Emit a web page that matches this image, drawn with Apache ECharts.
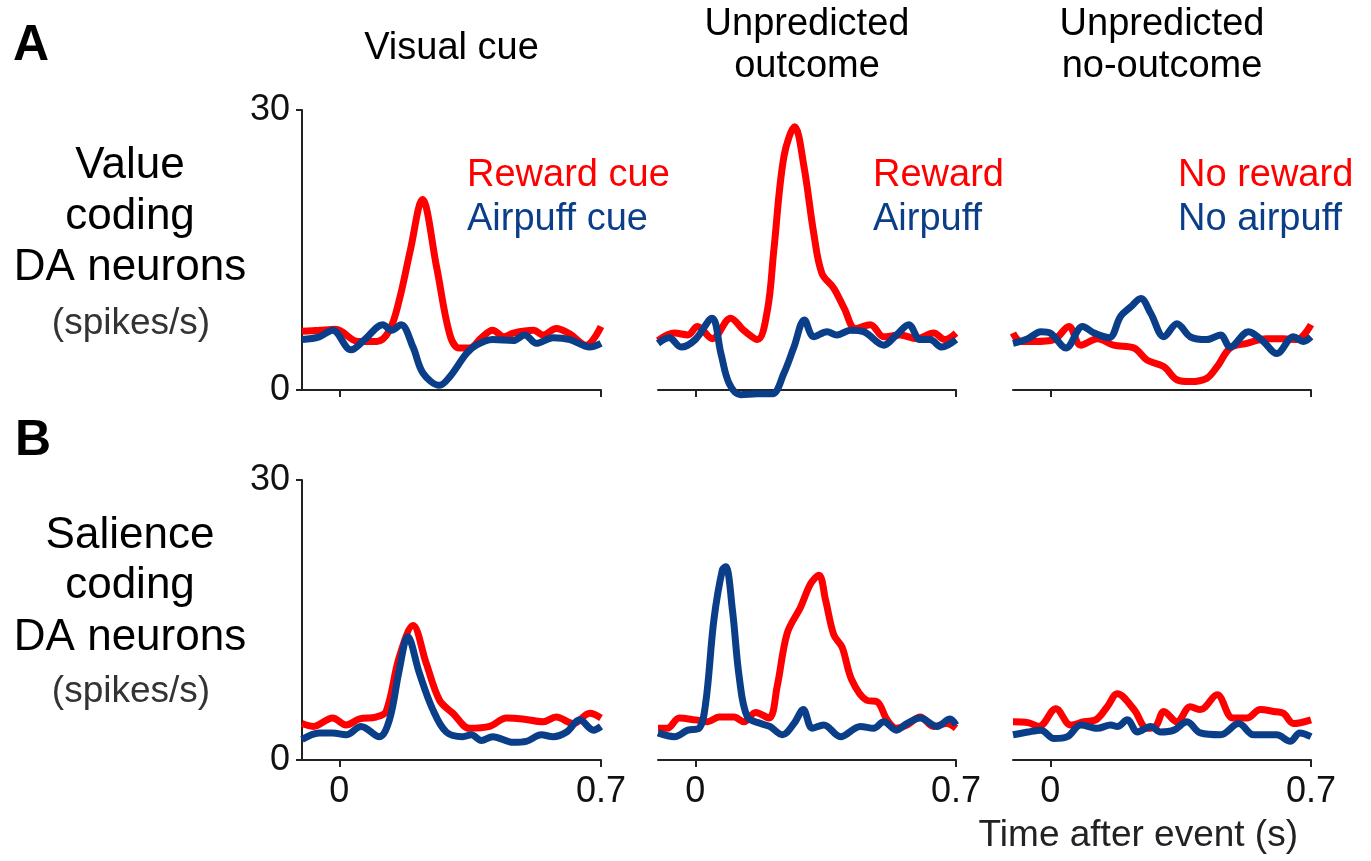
<!DOCTYPE html>
<html>
<head>
<meta charset="utf-8">
<script src="https://cdn.jsdelivr.net/npm/echarts@6/dist/echarts.min.js"></script>
<style>
html,body{margin:0;padding:0;background:#fff;}
#main{width:1371px;height:861px;}
</style>
</head>
<body>
<div id="main"></div>
<script>
// Column titles and row labels
const columnTitles = [['Visual cue'], ['Unpredicted', 'outcome'], ['Unpredicted', 'no-outcome']];
const rowLabelsA = ['Value', 'coding', 'DA neurons'];
const rowLabelsB = ['Salience', 'coding', 'DA neurons'];
const unitLabel = '(spikes/s)';
const redNames = ['Reward cue', 'Reward', 'No reward'];
const blueNames = ['Airpuff cue', 'Airpuff', 'No airpuff'];
const xTicks = [0, 0.7];
const yTicks = [0, 30];
const xAxisName = 'Time after event (s)';

// Row A (value coding) — [time (s), spikes/s]
const valueCueReward = [[-0.1,6.3],[-0.054,6.4],[-0.01,6.5],[0.05,5.2],[0.1,5.2],[0.134,6.4],[0.16,9.6],[0.19,15],[0.222,20.4],[0.26,13.2],[0.295,6],[0.32,4.5],[0.348,4.5],[0.38,5.6],[0.41,6.4],[0.44,5.7],[0.465,6.1],[0.52,6.4],[0.545,5.9],[0.58,6.6],[0.617,6],[0.66,4.8],[0.7,6.8]];
const valueCueAirpuff = [[-0.1,5.4],[-0.054,5.7],[-0.018,6.4],[0.031,4.3],[0.07,5.5],[0.116,7],[0.14,6.4],[0.165,7],[0.197,4.6],[0.224,1.8],[0.268,0.5],[0.295,1.4],[0.34,3.9],[0.366,4.8],[0.41,5.4],[0.465,5.3],[0.496,5.9],[0.527,5],[0.572,5.6],[0.617,5.4],[0.67,4.6],[0.7,5]];
const valueOutReward = [[-0.1,5.3],[-0.056,6.1],[-0.02,5.9],[0.006,6.8],[0.046,5.5],[0.095,7.7],[0.13,6.4],[0.167,5.4],[0.194,8.6],[0.211,15],[0.238,25],[0.267,28.2],[0.292,23.9],[0.318,16.8],[0.34,12.5],[0.372,10.9],[0.4,8.75],[0.43,6.6],[0.47,7],[0.506,5.7],[0.55,5.9],[0.595,5.5],[0.64,6.1],[0.67,5.4],[0.7,6.1]];
const valueOutAirpuff = [[-0.1,5],[-0.07,5.6],[-0.038,4.6],[0,5.4],[0.045,7.7],[0.069,3.9],[0.091,0.7],[0.122,-0.5],[0.167,-0.4],[0.207,-0.4],[0.238,1.8],[0.265,4.6],[0.293,7.5],[0.318,5.7],[0.354,6.25],[0.38,5.9],[0.417,6.4],[0.452,6.25],[0.506,4.8],[0.54,5.9],[0.573,7],[0.604,5.4],[0.63,5.4],[0.662,4.6],[0.7,5.4]];
const valueNoReward = [[-0.1,6.1],[-0.08,5.2],[-0.043,5.2],[0.01,5.4],[0.05,6.8],[0.082,4.8],[0.127,5.5],[0.17,4.8],[0.225,4.5],[0.26,3.2],[0.305,2.5],[0.34,1.1],[0.376,0.9],[0.42,1.25],[0.448,2.5],[0.483,4.5],[0.528,5],[0.58,5.5],[0.626,5.5],[0.662,5.4],[0.7,7]];
const valueNoAirpuff = [[-0.1,5],[-0.06,5.5],[-0.025,6.25],[0,6.1],[0.042,4.5],[0.087,6.8],[0.118,6.1],[0.158,5.6],[0.189,7.9],[0.216,8.9],[0.243,9.8],[0.27,8.2],[0.305,5.7],[0.34,7.1],[0.376,5.7],[0.42,5.4],[0.457,5.9],[0.483,4.6],[0.532,6.25],[0.572,5.2],[0.608,3.9],[0.653,5.7],[0.68,5.2],[0.7,5.7]];

// Row B (salience coding)
const salCueReward = [[-0.1,3.9],[-0.07,3.6],[-0.018,4.5],[0.018,3.75],[0.054,4.4],[0.098,4.6],[0.125,5.2],[0.16,11],[0.197,14.4],[0.232,10.4],[0.268,6.4],[0.304,5],[0.348,3.4],[0.402,3.6],[0.447,4.5],[0.49,4.4],[0.545,4.1],[0.58,4.6],[0.626,3.9],[0.67,5],[0.7,4.5]];
const salCueAirpuff = [[-0.1,2.2],[-0.054,2.9],[-0.018,2.9],[0.018,2.7],[0.058,3.6],[0.107,2.5],[0.134,4.3],[0.16,9.6],[0.183,13.2],[0.214,9.3],[0.25,5.4],[0.286,3],[0.33,2.5],[0.353,2.7],[0.38,2.1],[0.41,2.5],[0.465,1.9],[0.5,2],[0.54,2.7],[0.572,2.5],[0.608,3],[0.643,4.3],[0.68,3.2],[0.7,3.6]];
const salOutReward = [[-0.1,3.4],[-0.075,3.4],[-0.043,4.5],[0,4.3],[0.033,4.1],[0.064,4.6],[0.104,4.6],[0.131,4.1],[0.162,5.1],[0.198,4.5],[0.22,7.9],[0.247,13.6],[0.283,16.4],[0.31,18.9],[0.332,19.8],[0.35,17.1],[0.372,13.4],[0.394,12.1],[0.42,8.6],[0.46,6.4],[0.488,6.25],[0.515,4.3],[0.54,3.4],[0.568,3.75],[0.604,4.6],[0.64,3.6],[0.675,3.9],[0.7,3.4]];
const salOutAirpuff = [[-0.1,2.9],[-0.056,2.5],[-0.02,3.2],[0.01,3.4],[0.028,6.1],[0.05,15],[0.073,20.4],[0.082,20.7],[0.1,16],[0.118,8.9],[0.14,4.6],[0.176,3.9],[0.2,3.6],[0.234,2.7],[0.265,3.9],[0.29,5.4],[0.314,3.4],[0.345,3.75],[0.39,2.5],[0.443,3.6],[0.479,3.4],[0.506,4.1],[0.54,3.2],[0.568,3.9],[0.604,4.5],[0.649,3.6],[0.684,4.4],[0.7,3.75]];
const salNoReward = [[-0.1,4.1],[-0.06,4],[-0.03,3.6],[0.015,5.5],[0.055,3.75],[0.091,4.1],[0.122,4.3],[0.153,5.7],[0.18,7.1],[0.225,5.4],[0.26,3.4],[0.283,3.6],[0.305,5.2],[0.34,4.1],[0.376,5.7],[0.403,5.4],[0.448,7],[0.49,4.5],[0.528,4.5],[0.564,5.4],[0.6,5.2],[0.626,5],[0.653,3.9],[0.7,4.3]];
const salNoAirpuff = [[-0.1,2.7],[-0.06,3],[-0.025,3.2],[0.01,2.3],[0.046,2.5],[0.082,3.75],[0.127,3.4],[0.162,3.75],[0.18,3.6],[0.207,4.3],[0.234,3],[0.27,3.6],[0.296,3],[0.332,3.2],[0.367,4.1],[0.403,2.9],[0.457,2.7],[0.506,3.9],[0.546,2.7],[0.608,2.7],[0.644,2],[0.67,2.9],[0.7,2.5]];

const RED = '#FF0000';
const BLUE = '#0B3E88';
const FONT = '"Liberation Sans", Arial, sans-serif';
const AXIS = '#222';

const panelData = [
  [valueCueReward, valueCueAirpuff], [valueOutReward, valueOutAirpuff], [valueNoReward, valueNoAirpuff],
  [salCueReward, salCueAirpuff], [salOutReward, salOutAirpuff], [salNoReward, salNoAirpuff]
];

const colLeft = [302, 658, 1013];
const colWidth = [299, 298, 298];
const rowTop = [110, 480];
const rowHeight = 280;

const grids = [], xAxes = [], yAxes = [], series = [];
for (let r = 0; r < 2; r++) {
  for (let c = 0; c < 3; c++) {
    const i = r * 3 + c;
    grids.push({ left: colLeft[c], top: rowTop[r], width: colWidth[c], height: rowHeight, containLabel: false });
    xAxes.push({
      type: 'value', gridIndex: i, min: -0.1, max: 0.7,
      axisLine: { show: true, onZero: false, lineStyle: { color: AXIS, width: 2 } },
      axisTick: { show: true, customValues: xTicks, length: 7, lineStyle: { color: AXIS, width: 2 } },
      axisLabel: { show: r === 1, customValues: xTicks, fontSize: 36, fontFamily: FONT, color: '#111', margin: 14,
        formatter: v => (v === 0 ? '0' : '0.7') },
      splitLine: { show: false }
    });
    yAxes.push({
      type: 'value', gridIndex: i, min: 0, max: 30, interval: 30, show: c === 0,
      axisLine: { show: true, onZero: false, lineStyle: { color: AXIS, width: 2 } },
      axisTick: { show: true, length: 6, lineStyle: { color: AXIS, width: 2 } },
      axisLabel: { fontSize: 36, fontFamily: FONT, color: '#111', margin: 12 },
      splitLine: { show: false }
    });
    const [red, blue] = panelData[i];
    series.push({ type: 'line', xAxisIndex: i, yAxisIndex: i, data: red, smooth: 0.35, showSymbol: false, clip: false,
      lineStyle: { color: RED, width: 7 }, z: 3 });
    series.push({ type: 'line', xAxisIndex: i, yAxisIndex: i, data: blue, smooth: 0.35, showSymbol: false, clip: false,
      lineStyle: { color: BLUE, width: 7 }, z: 4 });
  }
}

const graphics = [];
function txt(text, x, y, size, color, align, weight) {
  graphics.push({ type: 'text', x: x, y: y, silent: true,
    style: { text: text, font: (weight || 'normal') + ' ' + size + 'px ' + FONT, fill: color,
      textAlign: align || 'center', textVerticalAlign: 'middle' } });
}
// Panel letters
txt('A', 13, 46, 50, '#000', 'left', 'bold');
txt('B', 15, 441, 50, '#000', 'left', 'bold');
// Column titles
const colCenters = colLeft.map((l, k) => l + colWidth[k] / 2);
txt(columnTitles[0][0], colCenters[0], 49, 38, '#000');
txt(columnTitles[1][0], colCenters[1], 25, 38, '#000');
txt(columnTitles[1][1], colCenters[1], 67, 38, '#000');
txt(columnTitles[2][0], colCenters[2], 25, 38, '#000');
txt(columnTitles[2][1], colCenters[2], 67, 38, '#000');
// Row labels
const rowAy = [166, 217, 268], rowBy = [536, 586, 638];
rowLabelsA.forEach((t, k) => txt(t, 130, rowAy[k], 44, '#000'));
rowLabelsB.forEach((t, k) => txt(t, 130, rowBy[k], 44, '#000'));
txt(unitLabel, 131, 324, 37, '#333');
txt(unitLabel, 131, 692, 37, '#333');
// Legends
const legX = [467, 873, 1178];
for (let c = 0; c < 3; c++) {
  txt(redNames[c], legX[c], 176, 38, RED, 'left');
  txt(blueNames[c], legX[c], 220, 38, BLUE, 'left');
}
// X axis name
txt(xAxisName, 1298, 836, 37, '#222', 'right');

const chart = echarts.init(document.getElementById('main'), null, { renderer: 'canvas' });
chart.setOption({
  animation: false,
  backgroundColor: '#fff',
  grid: grids, xAxis: xAxes, yAxis: yAxes, series: series,
  graphic: graphics
});
</script>
</body>
</html>
